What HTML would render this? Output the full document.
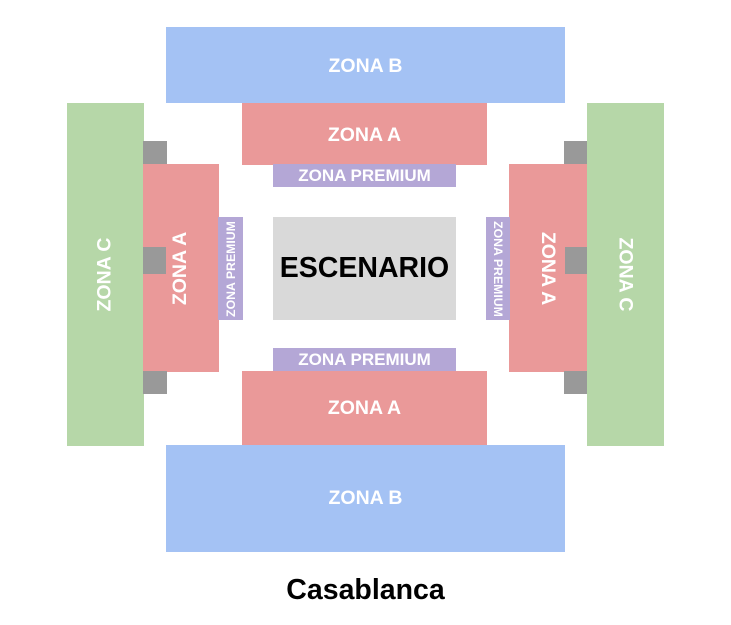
<!DOCTYPE html>
<html><head><style>
body{margin:0;width:731px;height:625px;background:#fff;position:relative;overflow:hidden;font-family:"Liberation Sans",Arial,sans-serif;}
div.b{position:absolute;display:flex;align-items:center;justify-content:center;color:#fff;font-weight:bold;font-size:19.5px;box-sizing:border-box;}
.r{transform:rotate(-90deg);white-space:nowrap;}
.rr{transform:rotate(90deg);white-space:nowrap;}
.B{background:#a4c2f4}.A{background:#ea9999}.C{background:#b6d7a8}.P{background:#b4a7d6}.G{background:#999}
</style></head><body>
<div class="b B" style="left:166px;top:27px;width:399px;height:76px;padding-top:3px">ZONA B</div>
<div class="b A" style="left:242px;top:103px;width:245px;height:62px;padding-top:2px">ZONA A</div>
<div class="b P" style="left:273px;top:164px;width:183px;height:23px;font-size:17px">ZONA PREMIUM</div>
<div class="b" style="left:273px;top:217px;width:183px;height:103px;background:#d9d9d9;color:#000;font-size:28.5px">ESCENARIO</div>
<div class="b P" style="left:273px;top:348px;width:183px;height:23px;font-size:17px">ZONA PREMIUM</div>
<div class="b A" style="left:242px;top:371px;width:245px;height:75px">ZONA A</div>
<div class="b B" style="left:166px;top:445px;width:399px;height:107px">ZONA B</div>
<div class="b C" style="left:67px;top:103px;width:77px;height:343px"><span class="r">ZONA C</span></div>
<div class="b A" style="left:143px;top:164px;width:76px;height:208px"><span class="r">ZONA A</span></div>
<div class="b P" style="left:218px;top:217px;width:25px;height:103px;font-size:12.3px"><span class="r">ZONA PREMIUM</span></div>
<div class="b G" style="left:143px;top:141px;width:24px;height:23px"></div>
<div class="b G" style="left:143px;top:247px;width:23px;height:27px"></div>
<div class="b G" style="left:143px;top:371px;width:24px;height:23px"></div>
<div class="b C" style="left:587px;top:103px;width:77px;height:343px"><span class="rr">ZONA C</span></div>
<div class="b A" style="left:509px;top:164px;width:78px;height:208px"><span class="rr">ZONA A</span></div>
<div class="b P" style="left:486px;top:217px;width:24px;height:103px;font-size:12.3px"><span class="rr">ZONA PREMIUM</span></div>
<div class="b G" style="left:564px;top:141px;width:23px;height:23px"></div>
<div class="b G" style="left:565px;top:247px;width:22px;height:27px"></div>
<div class="b G" style="left:564px;top:371px;width:23px;height:23px"></div>
<div class="b" style="left:166px;top:572px;width:399px;height:36px;color:#000;font-size:28.5px">Casablanca</div>
</body></html>
